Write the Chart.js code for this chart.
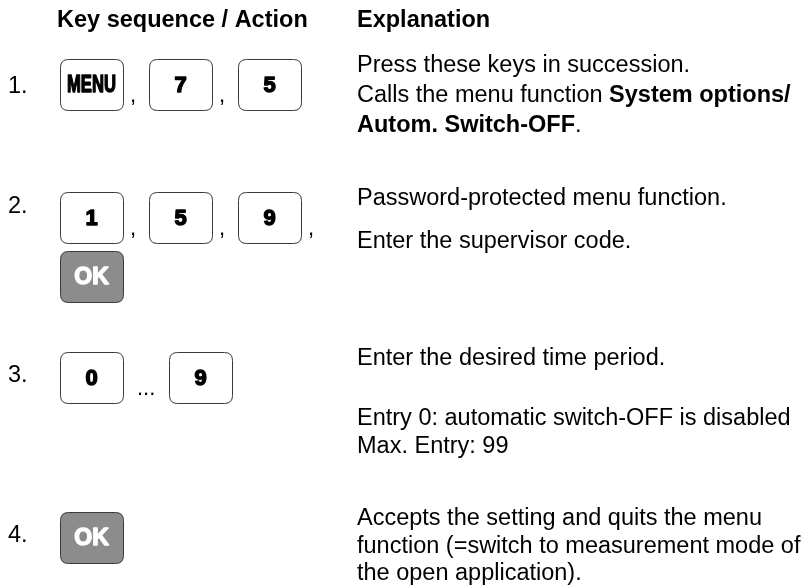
<!DOCTYPE html>
<html><head><meta charset="utf-8">
<script src="https://cdn.jsdelivr.net/npm/chart.js@4.4.1/dist/chart.umd.min.js"></script>
<style>html,body{margin:0;padding:0;background:#fff;overflow:hidden}canvas{display:block}</style>
</head><body>
<canvas id="c" width="808" height="587"></canvas>
<script>
// ---- content ----
const headers = ["Key sequence / Action", "Explanation"];
const stepLabels = ["1.", "2.", "3.", "4."];
const keySequences = [
  ["MENU", ",", "7", ",", "5"],
  ["1", ",", "5", ",", "9", ",", "\n", "OK"],
  ["0", "...", "9"],
  ["OK"]
];
const softKeys = ["OK"];
// each row: paragraphs -> lines -> [text, bold]
const explanations = [
  [[ [["Press these keys in succession.", false]],
     [["Calls the menu function ", false], ["System options/", true]],
     [["Autom. Switch-OFF", true], [".", false]] ]],
  [[ [["Password-protected menu function.", false]] ],
   [ [["Enter the supervisor code.", false]] ]],
  [[ [["Enter the desired time period.", false]] ],
   [ [["Entry 0: automatic switch-OFF is disabled", false]],
     [["Max. Entry: 99", false]] ]],
  [[ [["Accepts the setting and quits the menu", false]],
     [["function (=switch to measurement mode of", false]],
     [["the open application).", false]] ]]
];

// ---- layout ----
const FONT = "'Liberation Sans', Arial, Helvetica, sans-serif";
const L = {
  headerY: 27, headerX: [57, 357],
  textX: 357, labelX: 8, keyX: 60,
  rowBaselines: [72, 205, 365, 525],
  labelBaselines: [93, 213, 382, 542],
  lineH: [30, 29, 28, 27.5], paraGap: [0, 14, 32, 0],
  keyW: 63, keyH: 51, keyR: 8, keyTopOffset: -13, keyRowGap: 8,
  sepW: {",": 26, "...": 46}, sepOff: {",": 7, "...": 14}
};

function roundRect(ctx, x, y, w, h, r) {
  ctx.beginPath();
  ctx.moveTo(x + r, y);
  ctx.lineTo(x + w - r, y);
  ctx.quadraticCurveTo(x + w, y, x + w, y + r);
  ctx.lineTo(x + w, y + h - r);
  ctx.quadraticCurveTo(x + w, y + h, x + w - r, y + h);
  ctx.lineTo(x + r, y + h);
  ctx.quadraticCurveTo(x, y + h, x, y + h - r);
  ctx.lineTo(x, y + r);
  ctx.quadraticCurveTo(x, y, x + r, y);
  ctx.closePath();
}

const docPlugin = {
  id: 'doc',
  afterDraw(chart) {
    const ctx = chart.ctx;
    const sx = v => chart.scales.x.getPixelForValue(v);
    const sy = v => chart.scales.y.getPixelForValue(v);
    ctx.save();
    ctx.textBaseline = 'alphabetic';
    ctx.textAlign = 'left';
    ctx.fillStyle = '#000';
    // headers
    ctx.font = "bold 23.5px " + FONT;
    headers.forEach((h, i) => ctx.fillText(h, sx(L.headerX[i]), sy(L.headerY)));
    // rows
    stepLabels.forEach((lab, r) => {
      ctx.font = "23.5px " + FONT;
      ctx.fillStyle = '#000';
      ctx.textAlign = 'left';
      ctx.fillText(lab, sx(L.labelX), sy(L.labelBaselines[r]));
      // explanation
      let y = L.rowBaselines[r];
      explanations[r].forEach((para, pi) => {
        if (pi > 0) y += L.paraGap[r];
        para.forEach(line => {
          let x = L.textX;
          line.forEach(([t, b]) => {
            ctx.font = (b ? "bold " : "") + "23.5px " + FONT;
            ctx.fillText(t, sx(x), sy(y));
            x += ctx.measureText(t).width;
          });
          y += L.lineH[r];
        });
      });
      // keys
      let kx = L.keyX;
      let ky = L.rowBaselines[r] + L.keyTopOffset;
      keySequences[r].forEach(tok => {
        if (tok === "\n") { kx = L.keyX; ky += L.keyH + L.keyRowGap; return; }
        if (tok === "," || tok === "...") {
          ctx.font = "22px " + FONT;
          ctx.fillStyle = '#000';
          ctx.textAlign = 'left';
          ctx.fillText(tok, sx(kx + L.sepOff[tok]), sy(ky + L.keyH - 8));
          kx += L.sepW[tok];
          return;
        }
        const soft = softKeys.includes(tok);
        roundRect(ctx, sx(kx) + 0.5, sy(ky) + 0.5, L.keyW, L.keyH, L.keyR);
        ctx.fillStyle = soft ? '#8c8c8c' : '#fff';
        ctx.fill();
        ctx.lineWidth = 1;
        ctx.strokeStyle = '#3a3a3a';
        ctx.stroke();
        ctx.textAlign = 'center';
        ctx.textBaseline = 'middle';
        const col = soft ? '#fff' : '#000';
        ctx.fillStyle = col; ctx.strokeStyle = col;
        ctx.lineWidth = 1.4; ctx.lineJoin = 'round';
        const cx = sx(kx + L.keyW / 2), cy = sy(ky + L.keyH / 2 + 1);
        if (tok === "MENU") {
          ctx.font = "bold 24px " + FONT;
          ctx.fillText(tok, cx, cy, 49);
          ctx.strokeText(tok, cx, cy, 49);
        } else {
          ctx.font = "bold " + (soft ? 23 : 22) + "px " + FONT;
          ctx.fillText(tok, cx, cy);
          ctx.strokeText(tok, cx, cy);
        }
        ctx.textBaseline = 'alphabetic';
        ctx.textAlign = 'left';
        kx += L.keyW;
      });
    });
    ctx.restore();
  }
};

new Chart(document.getElementById('c'), {
  type: 'scatter',
  data: { datasets: [{ data: [] }] },
  options: {
    responsive: false, animation: false, devicePixelRatio: 1,
    layout: { padding: 0 },
    plugins: { legend: { display: false }, tooltip: { enabled: false } },
    scales: {
      x: { type: 'linear', min: 0, max: 808, display: false },
      y: { type: 'linear', min: 0, max: 587, reverse: true, display: false }
    }
  },
  plugins: [docPlugin]
});
</script>
</body></html>
